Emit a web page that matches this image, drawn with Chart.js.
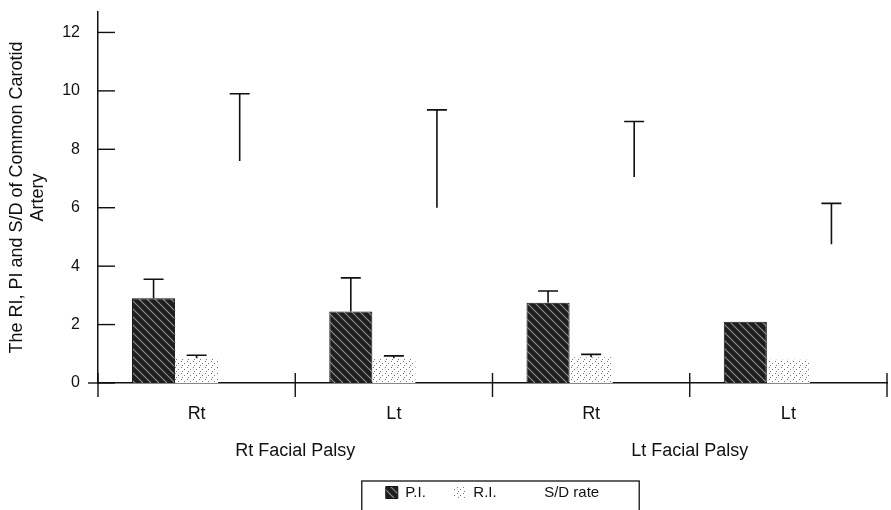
<!DOCTYPE html>
<html>
<head>
<meta charset="utf-8">
<script src="https://cdn.jsdelivr.net/npm/chart.js@4.4.1/dist/chart.umd.min.js"></script>
<style>
    html, body { margin: 0; padding: 0; background: #fff; }
    #wrap { width: 891px; height: 510px; }
</style>
</head>
<body>
<div id="wrap"><canvas id="chart" width="891" height="510"></canvas></div>
<script>
const CATEGORIES = ["Rt", "Lt", "Rt", "Lt"];
const GROUPS = ["Rt Facial Palsy", "Lt Facial Palsy"];

// mean values and the top of each (upward only) error bar
const PI_MEAN  = [2.9, 2.45, 2.75, 2.1];
const PI_UPPER = [3.55, 3.6, 3.15, null];
const RI_MEAN  = [0.85, 0.85, 0.88, 0.8];
const RI_UPPER = [0.95, 0.93, 0.98, null];
const SD_MEAN  = [7.6, 6.0, 7.05, 4.75];
const SD_UPPER = [9.9, 9.35, 8.95, 6.15];

const Y_TICKS = [0, 2, 4, 6, 8, 10, 12];

const INK = "#111";

function makePattern(size, draw) {
    const c = document.createElement("canvas");
    c.width = size; c.height = size;
    draw(c.getContext("2d"), size);
    return c.getContext("2d").createPattern(c, "repeat");
}

// dark hatched fill of the P.I. bars
const piFill = makePattern(8, (g, s) => {
    g.fillStyle = "#1e1e1e";
    g.fillRect(0, 0, s, s);
    g.strokeStyle = "#8c8c8c";
    g.lineWidth = 1.2;
    g.beginPath();
    g.moveTo(0, 0); g.lineTo(s, s);
    g.moveTo(-s / 2, s / 2); g.lineTo(s / 2, s * 1.5);
    g.moveTo(s / 2, -s / 2); g.lineTo(s * 1.5, s / 2);
    g.stroke();
});

// sparse dotted fill of the R.I. bars
const riFill = makePattern(6, (g, s) => {
    g.fillStyle = "#fff";
    g.fillRect(0, 0, s, s);
    g.fillStyle = "#777";
    g.fillRect(1, 1, 1, 1);
    g.fillRect(4, 3, 1, 1);
    g.fillRect(2, 5, 1, 1);
});

const ERRORS = [PI_UPPER, RI_UPPER, SD_UPPER];

const errorBars = {
    id: "errorBars",
    afterDatasetsDraw(chart) {
        const y = chart.scales.y;
        const g = chart.ctx;
        g.save();
        g.strokeStyle = INK;
        g.lineWidth = 1.6;
        ERRORS.forEach((upper, d) => {
            chart.getDatasetMeta(d).data.forEach((bar, i) => {
                if (upper[i] == null) return;
                const top = y.getPixelForValue(upper[i]);
                g.beginPath();
                g.moveTo(bar.x, bar.y);
                g.lineTo(bar.x, top);
                g.moveTo(bar.x - 10, top);
                g.lineTo(bar.x + 10, top);
                g.stroke();
            });
        });
        g.restore();
    }
};

const axisMarks = {
    id: "axisMarks",
    afterDraw(chart) {
        const { x, y } = chart.scales;
        const area = chart.chartArea;
        const g = chart.ctx;
        g.save();
        g.strokeStyle = INK;
        g.lineWidth = 1.4;
        // inward ticks on the value axis
        y.ticks.forEach(t => {
            const py = y.getPixelForValue(t.value);
            g.beginPath();
            g.moveTo(area.left, py);
            g.lineTo(area.left + 17, py);
            g.stroke();
        });
        // x axis runs a little past the value axis
        g.beginPath();
        g.moveTo(area.left - 10, area.bottom);
        g.lineTo(area.left, area.bottom);
        g.stroke();
        // crossing ticks between the categories
        const edges = [area.left];
        for (let i = 0; i < CATEGORIES.length - 1; i++) {
            edges.push((x.getPixelForValue(i) + x.getPixelForValue(i + 1)) / 2);
        }
        edges.push(area.right);
        edges.forEach(px => {
            g.beginPath();
            g.moveTo(px, area.bottom - 10);
            g.lineTo(px, area.bottom + 14);
            g.stroke();
        });
        // group labels under each pair of categories
        g.fillStyle = INK;
        g.font = "18px 'Liberation Sans', Arial, sans-serif";
        g.textAlign = "center";
        g.textBaseline = "middle";
        GROUPS.forEach((label, k) => {
            const px = (x.getPixelForValue(2 * k) + x.getPixelForValue(2 * k + 1)) / 2;
            g.fillText(label, px, area.bottom + 68);
        });
        // frame around the legend
        const boxes = chart.legend.legendHitBoxes;
        if (boxes && boxes.length) {
            const first = boxes[0], last = boxes[boxes.length - 1];
            g.lineWidth = 1.3;
            g.strokeRect(first.left - 24, first.top - 4,
                last.left + last.width + 40 - (first.left - 24), chart.height);
        }
        g.restore();
    }
};

Chart.defaults.font.family = "'Liberation Sans', Arial, sans-serif";
Chart.defaults.color = INK;

new Chart(document.getElementById("chart"), {
    type: "bar",
    data: {
        labels: CATEGORIES,
        datasets: [
            { label: "P.I.", data: PI_MEAN, backgroundColor: piFill, borderColor: INK, borderWidth: 1 },
            { label: "R.I.", data: RI_MEAN, backgroundColor: riFill, borderWidth: 0 },
            { label: "S/D rate", data: SD_MEAN, backgroundColor: "rgba(0,0,0,0)", borderColor: "rgba(0,0,0,0)", borderWidth: 0 }
        ]
    },
    options: {
        responsive: false,
        animation: false,
        layout: { padding: { top: 12, right: 4, left: 0, bottom: 0 } },
        datasets: { bar: { categoryPercentage: 0.655, barPercentage: 1.0 } },
        plugins: {
            tooltip: { enabled: false },
            legend: {
                position: "bottom",
                fullSize: false,
                labels: {
                    font: { size: 15 },
                    boxWidth: 12,
                    boxHeight: 12,
                    padding: 28,
                    color: INK
                }
            }
        },
        scales: {
            x: {
                grid: { display: false, drawTicks: false },
                border: { display: true, color: INK, width: 1.5 },
                ticks: { font: { size: 18 }, padding: 20, color: INK },
                afterFit(s) { s.height = 74; s.paddingLeft = 0; s.paddingRight = 0; }
            },
            y: {
                min: 0,
                max: 12.7,
                grid: { display: false, drawTicks: false },
                border: { display: true, color: INK, width: 1.5 },
                ticks: { stepSize: 2, font: { size: 16 }, padding: 18, color: INK },
                afterBuildTicks(s) { s.ticks = Y_TICKS.map(v => ({ value: v })); },
                title: {
                    display: true,
                    text: ["The RI, PI and S/D of Common Carotid", "Artery"],
                    font: { size: 18 },
                    color: INK,
                    padding: { top: 6, bottom: 0 }
                },
                afterFit(s) { s.width = 98; s.paddingTop = 0; s.paddingBottom = 0; }
            }
        }
    },
    plugins: [errorBars, axisMarks]
});
</script>
</body>
</html>
